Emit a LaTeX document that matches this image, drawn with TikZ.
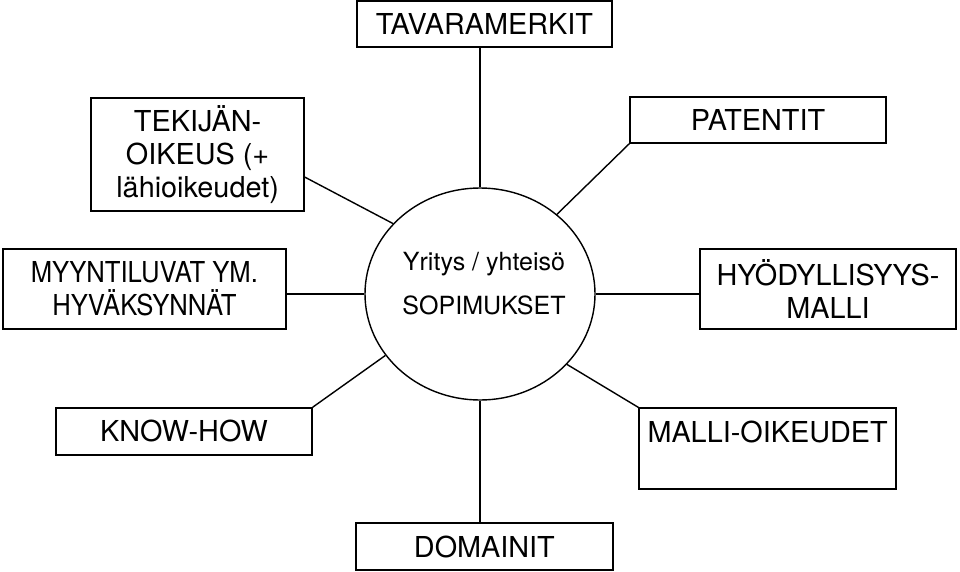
\documentclass[tikz,border=0pt]{standalone}
\usepackage{fontspec}
\setmainfont{TeX Gyre Heros}
\usetikzlibrary{shapes.geometric}
\begin{document}
\begin{tikzpicture}[line width=1pt,
  box/.style={draw,inner sep=0pt,align=center,font=\fontsize{20.5}{23.3}\selectfont}]
\useasboundingbox (0,0) rectangle (24,14.275);
\node[box,minimum width=6.375cm,minimum height=1.15cm] (tav) at (12.11,13.675) {TAVARAMERKIT};
\node[box,minimum width=5.325cm,minimum height=2.825cm] (tek) at (4.94,10.41) {TEKIJÄN-\\OIKEUS (+\\lähioikeudet)};
\node[box,minimum width=6.4cm,minimum height=1.15cm] (pat) at (18.95,11.275) {PATENTIT};
\node[box,minimum width=7.075cm,minimum height=2.0cm,font=\fontsize{20.5}{23.3}\selectfont\addfontfeatures{FakeStretch=0.89}] (myy) at (3.61,7.05) {MYYNTILUVAT YM.\\HYVÄKSYNNÄT};
\node[box,minimum width=6.4cm,minimum height=2.0cm] (hyo) at (20.7,7.05) {HYÖDYLLISYYS-\\MALLI};
\node[box,minimum width=6.4cm,minimum height=1.175cm] (know) at (4.6,3.49) {KNOW-HOW};
\node[box,minimum width=6.425cm,minimum height=2.025cm] (malli) at (19.19,3.06) {MALLI-OIKEUDET\\~};
\node[box,minimum width=6.425cm,minimum height=1.175cm] (dom) at (12.11,0.61) {DOMAINIT};
\node[draw,ellipse,inner sep=0pt,minimum width=5.75cm,minimum height=5.3cm] (c) at (12.0,6.925) {};
\node[align=center,font=\fontsize{17.8}{21}\selectfont] (ctext) at (12.1,7.19) {Yritys / yhteisö\\[10pt]SOPIMUKSET};
\draw (c.north) -- (c.north |- tav.south);
\draw ([yshift=-0.5625cm]tek.east) -- (c.141);
\draw (pat.south west) -- (c.46);
\draw (myy.east |- c.west) -- (c.west);
\draw (c.east) -- (c.east -| hyo.west);
\draw (know.north east) -- (c.213);
\draw (c.321) -- (malli.north west);
\draw (c.south) -- (c.south |- dom.north);
\end{tikzpicture}
\end{document}
